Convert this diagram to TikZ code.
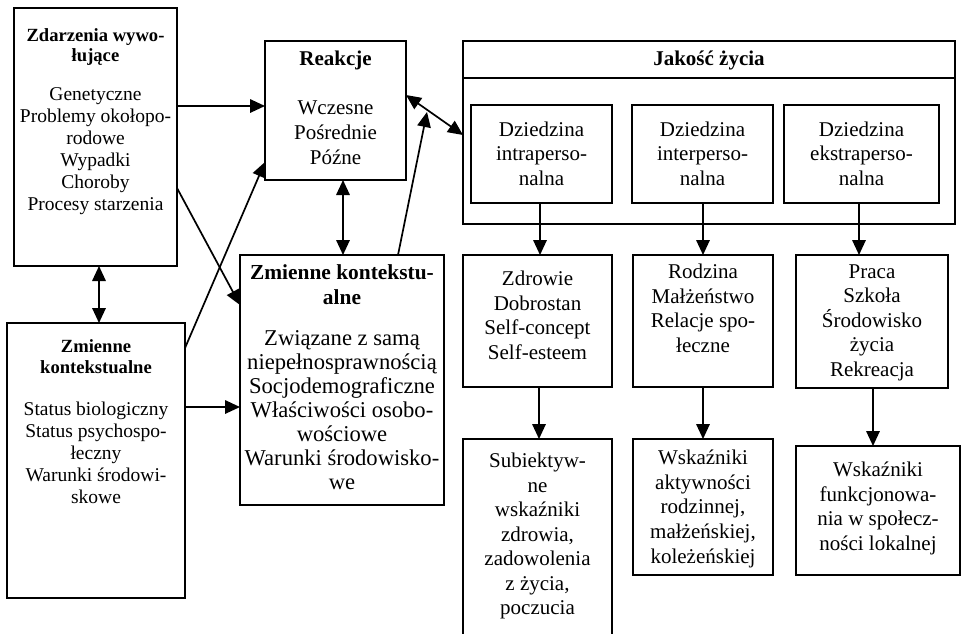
\documentclass[tikz,border=0pt]{standalone}
\usepackage{fontspec}
\setmainfont{Liberation Serif}
\usetikzlibrary{arrows.meta}
\begin{document}
\begin{tikzpicture}[x=1pt,y=-1pt,
  box/.style={draw,line width=1.9pt,inner sep=0pt,outer sep=0pt,anchor=north west},
  txt/.style={anchor=north,align=center,inner sep=0pt,outer sep=0pt},
  smallf/.style={font=\fontsize{19.5}{22}\selectfont},
  bigf/.style={font=\fontsize{21}{24.5}\selectfont},
  midf/.style={font=\fontsize{22.6}{24}\selectfont},
  arr/.style={line width=1.7pt,-{Triangle[length=15pt,width=13.5pt]}},
  darr/.style={line width=1.7pt,{Triangle[length=15pt,width=13.5pt]}-{Triangle[length=15pt,width=13.5pt]}}]
\useasboundingbox (0,0) rectangle (963,633);
\clip (0,0) rectangle (963,633);

% boxes
\node[box,minimum width=163pt,minimum height=258pt] (ev) at (14,8) {};
\node[box,minimum width=178pt,minimum height=275pt] (ctx1) at (7,323) {};
\node[box,minimum width=141pt,minimum height=139pt] (reak) at (265,41) {};
\node[box,minimum width=204pt,minimum height=250pt] (ctx2) at (240,255) {};
\node[box,minimum width=492pt,minimum height=183pt] (jak) at (463,41) {};
\draw[line width=1.9pt] (jak.west |- 0,78) -- (jak.east |- 0,78);
\node[box,minimum width=141pt,minimum height=98pt] (d1) at (471,105) {};
\node[box,minimum width=141pt,minimum height=98pt] (d2) at (632,105) {};
\node[box,minimum width=155pt,minimum height=98pt] (d3) at (784,105) {};
\node[box,minimum width=149pt,minimum height=132pt] (z1) at (463,255) {};
\node[box,minimum width=140pt,minimum height=132pt] (z2) at (633,255) {};
\node[box,minimum width=152pt,minimum height=133pt] (z3) at (796,255) {};
\node[box,minimum width=149pt,minimum height=211pt] (s1) at (463,439) {};
\node[box,minimum width=140pt,minimum height=136pt] (s2) at (633,439) {};
\node[box,minimum width=164pt,minimum height=129pt] (s3) at (796,446) {};

% texts
\node[txt,smallf] (evt) at (95.5,28.7) {{\fontsize{18.6}{22}\selectfont\bfseries Zdarzenia wywo-}\\[-2pt]{\fontsize{18.6}{22}\selectfont\bfseries łujące}\\[17pt]Genetyczne\\Problemy okołopo-\\rodowe\\Wypadki\\Choroby\\Procesy starzenia};
\node[txt,smallf] (ctx1t) at (96,340) {{\fontsize{18.6}{22}\selectfont\bfseries Zmienne}\\[-1pt]{\fontsize{18.6}{22}\selectfont\bfseries kontekstualne}\\[20pt]Status biologiczny\\Status psychospo-\\łeczny\\Warunki środowi-\\skowe};
\node[txt,font=\fontsize{21}{25}\selectfont] (reakt) at (335.5,50.5) {\textbf{Reakcje}\\[24pt]Wczesne\\Pośrednie\\Późne};
\node[txt,midf] (ctx2t) at (342,264.7) {{\fontsize{21.4}{24}\selectfont\bfseries Zmienne kontekstu-}\\[1pt]{\fontsize{21.4}{24}\selectfont\bfseries alne}\\[17pt]Związane z samą\\niepełnosprawnością\\Socjodemograficzne\\Właściwości osobo-\\wościowe\\Warunki środowisko-\\we};
\node[txt,bigf] (jakt) at (709,50.5) {\textbf{Jakość życia}};
\node[txt,bigf] (d1t) at (541.5,121.5) {Dziedzina\\intraperso-\\nalna};
\node[txt,bigf] (d2t) at (702.5,121.5) {Dziedzina\\interperso-\\nalna};
\node[txt,bigf] (d3t) at (861.5,121.5) {Dziedzina\\ekstraperso-\\nalna};
\node[txt,bigf] (z1t) at (537.5,271) {Zdrowie\\Dobrostan\\Self-concept\\Self-esteem};
\node[txt,bigf] (z2t) at (703,264.2) {Rodzina\\Małżeństwo\\Relacje spo-\\łeczne};
\node[txt,bigf] (z3t) at (872,264.5) {Praca\\Szkoła\\Środowisko\\życia\\Rekreacja};
\node[txt,bigf] (s1t) at (537.5,453) {Subiektyw-\\ne\\wskaźniki\\zdrowia,\\zadowolenia\\z życia,\\poczucia};
\node[txt,font=\fontsize{21}{24.8}\selectfont] (s2t) at (703,449.7) {Wskaźniki\\aktywności\\rodzinnej,\\małżeńskiej,\\koleżeńskiej};
\node[txt,bigf] (s3t) at (878,462) {Wskaźniki\\funkcjonowa-\\nia w społecz-\\ności lokalnej};

% connectors
\draw[arr] (ev.east |- 0,106) -- (reak.west |- 0,106);
\draw[darr] (ev.south -| 99,0) -- (ctx1.north -| 99,0);
\draw[arr] (ev.east |- 0,188) -- (ctx2.west |- 0,305);
\draw[arr] (ctx1.east |- 0,348) -- (reak.west |- 0,162);
\draw[arr] (ctx1.east |- 0,407) -- (ctx2.west |- 0,407);
\draw[darr] (reak.south -| 343,0) -- (ctx2.north -| 343,0);
\coordinate (tip) at (427,112);
\draw[arr] (ctx2.north -| 398,0) -- (tip);
\draw[darr] (reak.east |- 0,95) -- (jak.west |- 0,135);
\draw[arr] (d1.south -| 540,0) -- (z1.north -| 540,0);
\draw[arr] (d2.south -| 703,0) -- (z2.north -| 703,0);
\draw[arr] (d3.south -| 859,0) -- (z3.north -| 859,0);
\draw[arr] (z1.south -| 539,0) -- (s1.north -| 539,0);
\draw[arr] (z2.south -| 703,0) -- (s2.north -| 703,0);
\draw[arr] (z3.south -| 873,0) -- (s3.north -| 873,0);
\end{tikzpicture}
\end{document}
